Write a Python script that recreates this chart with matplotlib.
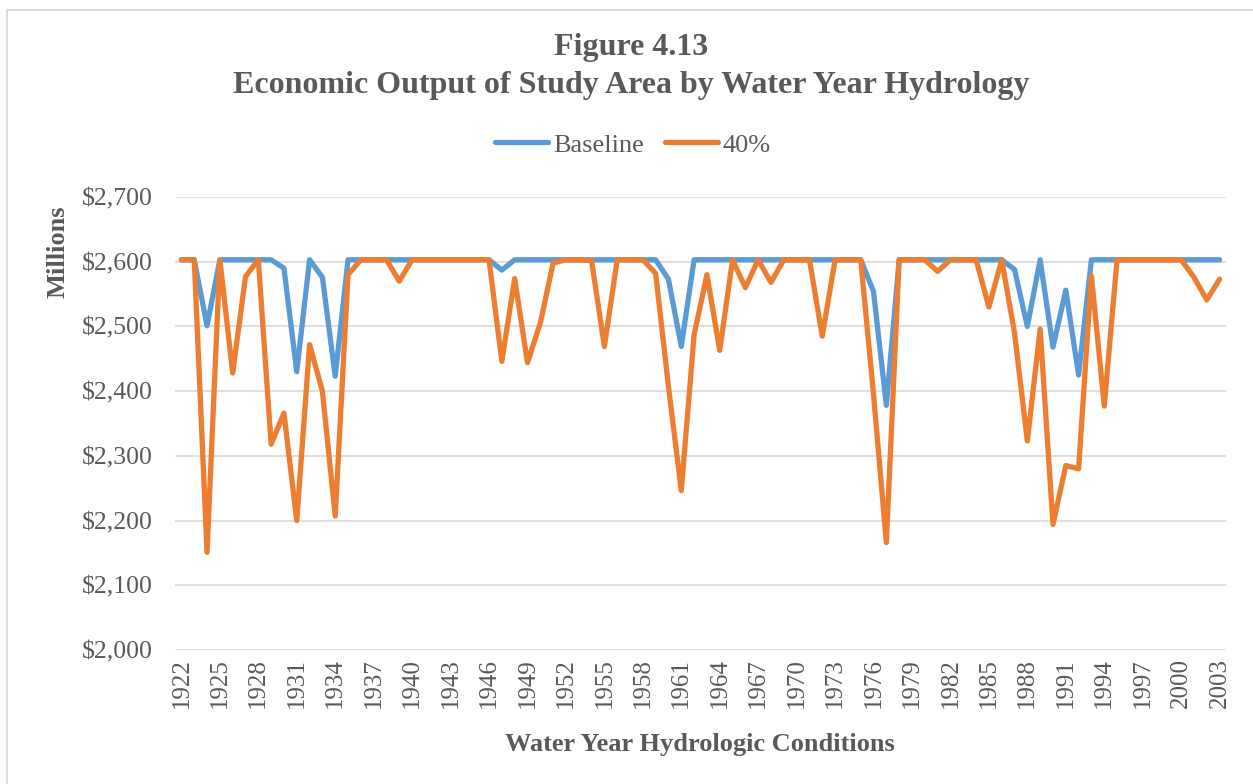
import numpy as np
import matplotlib
matplotlib.use("Agg")
import matplotlib.pyplot as plt
from matplotlib.patches import Rectangle

plt.rcParams['font.family'] = ['Liberation Serif', 'DejaVu Serif']

# water years 1922..2003
years = list(range(1922, 2004))

baseline = [2603, 2603, 2501, 2603, 2603, 2603, 2603, 2603, 2590, 2430,
            2603, 2576, 2423, 2603, 2603, 2603, 2603, 2603, 2603, 2603,
            2603, 2603, 2603, 2603, 2603, 2587, 2603, 2603, 2603, 2603,
            2603, 2603, 2603, 2603, 2603, 2603, 2603, 2603, 2573, 2469,
            2603, 2603, 2603, 2603, 2603, 2603, 2603, 2603, 2603, 2603,
            2603, 2603, 2603, 2603, 2554, 2378, 2603, 2603, 2603, 2603,
            2603, 2603, 2603, 2603, 2603, 2588, 2500, 2603, 2468, 2556,
            2425, 2603, 2603, 2603, 2603, 2603, 2603, 2603, 2603, 2603,
            2603, 2603]

pct40 = [2603, 2603, 2151, 2603, 2428, 2577, 2603, 2318, 2366, 2200,
         2472, 2400, 2207, 2580, 2603, 2603, 2603, 2570, 2603, 2603,
         2603, 2603, 2603, 2603, 2603, 2446, 2574, 2444, 2505, 2598,
         2603, 2603, 2602, 2469, 2603, 2603, 2603, 2582, 2407, 2246,
         2487, 2580, 2463, 2603, 2560, 2603, 2568, 2603, 2603, 2603,
         2485, 2603, 2603, 2603, 2395, 2166, 2603, 2603, 2603, 2585,
         2603, 2603, 2603, 2530, 2603, 2490, 2323, 2496, 2194, 2285,
         2280, 2578, 2377, 2603, 2603, 2603, 2603, 2603, 2603, 2576,
         2541, 2573]

yticks = [2000, 2100, 2200, 2300, 2400, 2500, 2600, 2700]

W, H = 1253, 784
txt = '#595959'
blue = '#5B9BD5'
orange = '#ED7D31'

fig = plt.figure(figsize=(W / 100, H / 100), dpi=100)
# chart border (only top and left edges show in the crop)
fig.patches.append(Rectangle((7 / W, -0.1), 1.2, 1 - 10 / H + 0.1, transform=fig.transFigure,
                             fill=False, edgecolor='#D9D9D9', linewidth=1.3))

ax = fig.add_axes([175 / W, 1 - 650 / H, (1226 - 175) / W, (650 - 197) / H])
x = np.arange(len(years))
ax.plot(x, baseline, color=blue, lw=3.8, solid_capstyle='round', solid_joinstyle='round', label='Baseline')
ax.plot(x, pct40, color=orange, lw=3.8, solid_capstyle='round', solid_joinstyle='round', label='40%')

ax.set_xlim(-0.5, len(years) - 0.5)
ax.set_ylim(2000, 2700)
ax.set_yticks(yticks)
ax.set_yticklabels(['${:,}'.format(v) for v in yticks])
ax.set_xticks(x[::3])
ax.set_xticklabels([str(y) for y in years[::3]], rotation=90)
ax.grid(axis='y', color='#D9D9D9', lw=1.2)
ax.set_axisbelow(True)
for s in ax.spines.values():
    s.set_visible(False)
ax.tick_params(axis='y', length=0, pad=16, labelsize=18.5, labelcolor=txt)
ax.tick_params(axis='x', length=0, pad=6, labelsize=18, labelcolor=txt)

fig.text(631 / W, 1 - 48 / H, 'Figure 4.13', ha='center', va='center',
         fontsize=23, fontweight='bold', color=txt)
fig.text(631 / W, 1 - 86 / H, 'Economic Output of Study Area by Water Year Hydrology',
         ha='center', va='center', fontsize=23, fontweight='bold', color=txt)
fig.text(58 / W, 1 - 252 / H, 'Millions', rotation=90, ha='center', va='center',
         fontsize=19, fontweight='bold', color=txt)
fig.text(700 / W, 1 - 745 / H, 'Water Year Hydrologic Conditions', ha='center', va='center',
         fontsize=19, fontweight='bold', color=txt)

leg = fig.legend(loc='center', bbox_to_anchor=(633 / W, 1 - 145 / H), ncol=2, frameon=False,
                 fontsize=19, handlelength=2.0, handletextpad=0.2, columnspacing=0.8)
for t in leg.get_texts():
    t.set_color(txt)

fig.savefig('out.png', dpi=100)
